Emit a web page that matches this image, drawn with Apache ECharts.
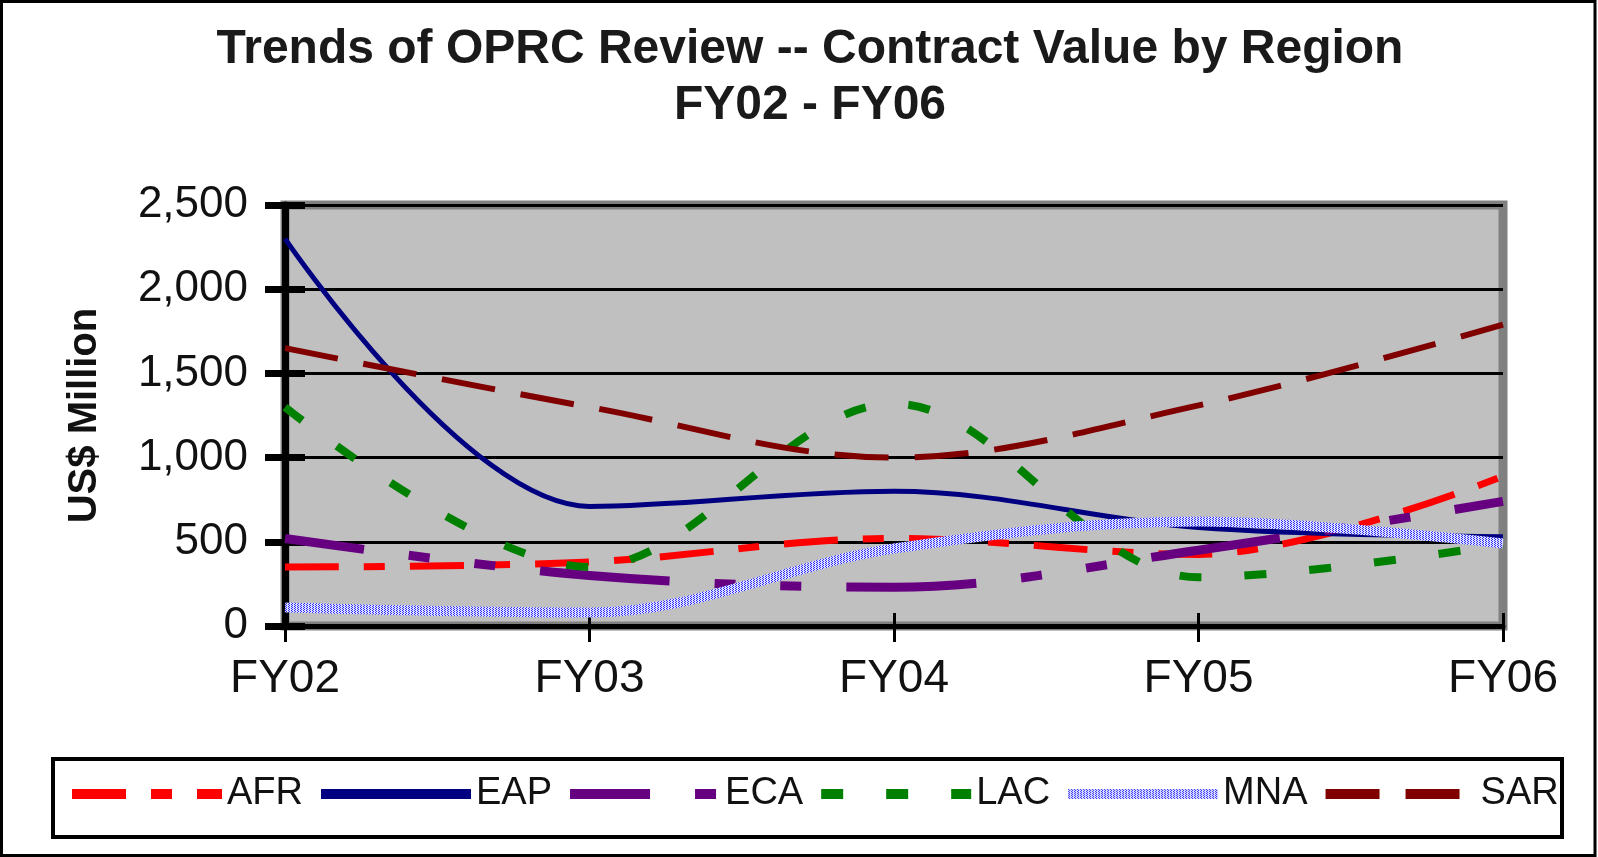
<!DOCTYPE html>
<html>
<head>
<meta charset="utf-8">
<script src="https://cdn.jsdelivr.net/npm/echarts@6/dist/echarts.min.js"></script>
<style>
  html, body { margin: 0; padding: 0; background: #fff; }
  #chart { width: 1598px; height: 857px; }
</style>
</head>
<body>
<div id="chart"></div>
<script>
// chart data
const years = ["FY02", "FY03", "FY04", "FY05", "FY06"];
const yTickLabels = ["0", "500", "1,000", "1,500", "2,000", "2,500"];
const afr = [350, 380, 520, 425, 890];
const eap = [2300, 710, 800, 585, 530];
const eca = [520, 300, 230, 450, 740];
const lac = [1300, 350, 1320, 290, 485];
const mna = [110, 80, 460, 620, 490];
const sar = [1650, 1300, 1000, 1310, 1790];

const FONT = "Liberation Sans, Arial, sans-serif";

// checkered blue/white look of the MNA line
function mnaPattern() {
  let c = document.createElement("canvas");
  c.width = 3;
  c.height = 2;
  let ctx = c.getContext("2d");
  ctx.fillStyle = "#e0e0ff";
  ctx.fillRect(0, 0, 3, 2);
  ctx.fillStyle = "#2a2aff";
  ctx.fillRect(0, 0, 1, 1);
  ctx.fillRect(1, 1, 1, 1);
  return { image: c, repeat: "repeat" };
}

function line(name, data, color, width, type, offset) {
  return {
    name: name,
    type: "line",
    data: data,
    smooth: 0.35,
    symbol: "none",
    itemStyle: { color: typeof color === "string" ? color : "#8c8cff" },
    lineStyle: { color: color, width: width, type: type, dashOffset: offset || 0, cap: "butt" },
  };
}

let myChart = echarts.init(document.getElementById("chart"));
myChart.setOption({
  animation: false,
  backgroundColor: "#fff",
  title: {
    text: "Trends of OPRC Review -- Contract Value by Region\nFY02 - FY06",
    left: 805,
    textAlign: "center",
    top: 17,
    textStyle: { fontFamily: FONT, fontSize: 48, fontWeight: "bold", color: "#1a1a1a", lineHeight: 56 },
  },
  legend: {
    left: 67,
    top: 775,
    padding: 0,
    itemWidth: 150,
    itemHeight: 14,
    itemGap: 13,
    selectedMode: false,
    itemStyle: { opacity: 0, borderWidth: 0 },
    lineStyle: { width: 10, cap: "butt", opacity: 1 },
    textStyle: { fontFamily: FONT, fontSize: 38, color: "#111" },
    data: ["AFR", "EAP", "ECA", "LAC", "MNA", "SAR"],
  },
  grid: {
    left: 285,
    right: 95,
    top: 205,
    bottom: 231,
    show: true,
    backgroundColor: "#c0c0c0",
    borderColor: "#808080",
    borderWidth: 9,
  },
  xAxis: [
    {
      type: "category",
      data: years,
      boundaryGap: false,
      axisLine: { lineStyle: { color: "#000", width: 5 } },
      axisTick: { length: 16, lineStyle: { color: "#000", width: 3 } },
      axisLabel: { margin: 30, fontFamily: FONT, fontSize: 46, color: "#111" },
    },
    {
      type: "category",
      data: years,
      boundaryGap: false,
      position: "bottom",
      axisLine: { show: false },
      axisTick: { inside: true, length: 13, lineStyle: { color: "#000", width: 3 } },
      axisLabel: { show: false },
    },
  ],
  yAxis: [
    {
      type: "value",
      min: 0,
      max: 2500,
      interval: 500,
      name: "US$ Million",
      nameLocation: "middle",
      nameGap: 180,
      nameTextStyle: { fontFamily: FONT, fontSize: 40, fontWeight: "bold", color: "#111" },
      axisLine: { show: true, lineStyle: { color: "#000", width: 7 } },
      axisTick: { show: true, length: 20, lineStyle: { color: "#000", width: 7 } },
      axisLabel: {
        margin: 37,
        fontFamily: FONT,
        fontSize: 44,
        color: "#111",
        formatter: (v) => yTickLabels[Math.round(v / 500)],
      },
      splitLine: { lineStyle: { color: "#000", width: 3 } },
    },
    {
      type: "value",
      min: 0,
      max: 2500,
      interval: 500,
      position: "left",
      axisLine: { show: false },
      axisTick: { show: true, inside: true, length: 20, lineStyle: { color: "#000", width: 7 } },
      axisLabel: { show: false },
      splitLine: { show: false },
    },
  ],
  series: [
    line("AFR", afr, "#ff0000", 7, [54, 25, 21, 25]),
    line("EAP", eap, "#000080", 5, "solid"),
    line("ECA", eca, "#660080", 9, [130, 45, 21, 45, 21, 45], 50),
    line("LAC", lac, "#008000", 8, [22, 43]),
    line("MNA", mna, mnaPattern(), 10, "solid"),
    line("SAR", sar, "#800000", 6, [54, 26]),
  ],
  graphic: [
    // white patch clipping the last legend label at the box edge
    { type: "rect", z: 99, shape: { x: 1564, y: 765, width: 28, height: 60 }, style: { fill: "#fff" } },
    { type: "rect", z: 100, shape: { x: 53, y: 759, width: 1509, height: 78 }, style: { fill: null, stroke: "#000", lineWidth: 4 } },
    { type: "rect", z: 100, shape: { x: 1.5, y: 1.5, width: 1593.5, height: 854 }, style: { fill: null, stroke: "#000", lineWidth: 3 } },
  ],
});
</script>
</body>
</html>
